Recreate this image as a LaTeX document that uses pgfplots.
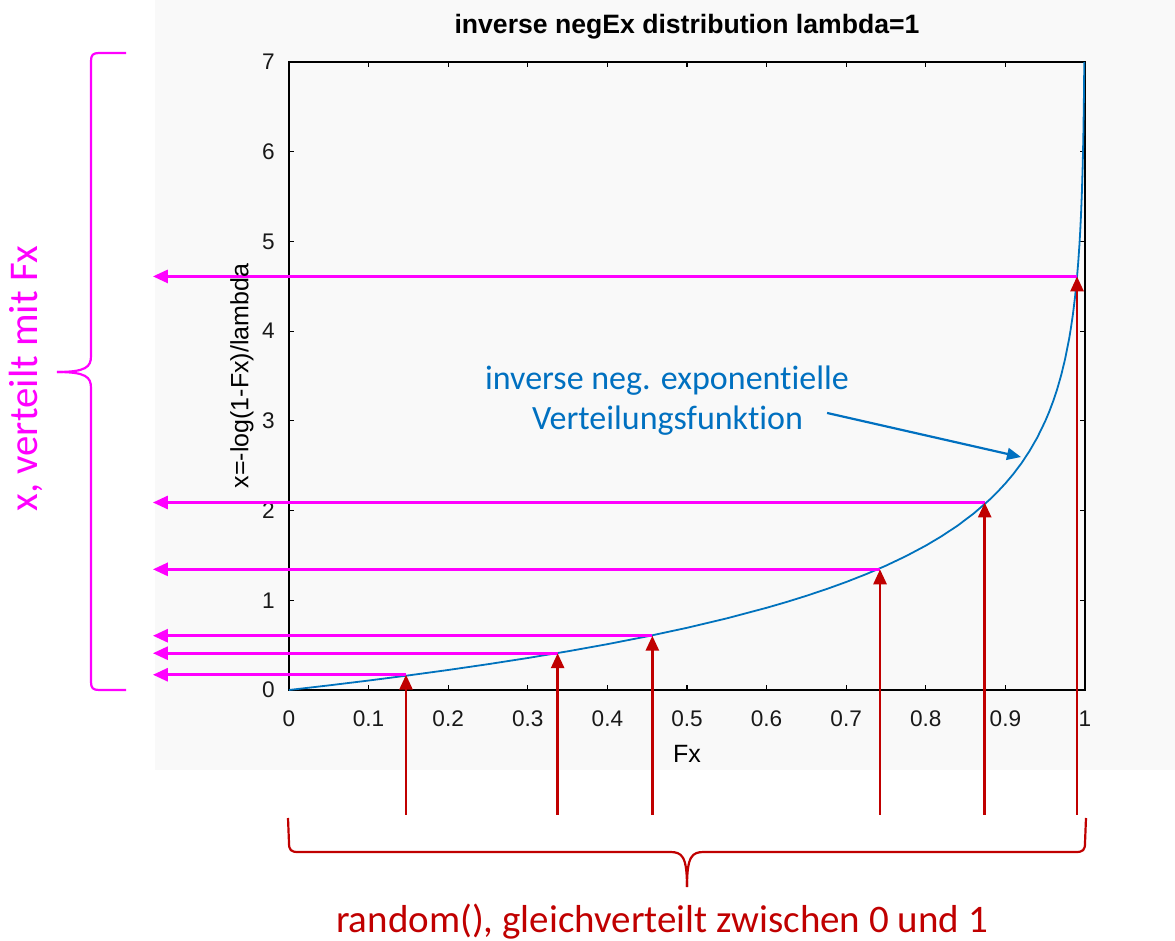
\documentclass[border=0pt]{standalone}
\usepackage{pgfplots}
\pgfplotsset{compat=1.18}
\usepackage{fontspec}
\setmainfont{Liberation Sans}
\newfontfamily\calfont[Ligatures={NoCommon}]{Carlito}
\usetikzlibrary{arrows.meta}
\definecolor{mag}{RGB}{255,0,255}
\definecolor{dred}{RGB}{192,0,0}
\definecolor{cblue}{RGB}{0,114,189}
\definecolor{tblue}{RGB}{0,112,192}
\definecolor{panel}{RGB}{249,249,249}

\pgfplotstableread{
F x
0 0
0.05 0.0513
0.1 0.1054
0.15 0.1625
0.2 0.2231
0.25 0.2877
0.3 0.3567
0.35 0.4308
0.4 0.5108
0.45 0.5978
0.5 0.6931
0.55 0.7985
0.6 0.9163
0.625 0.9808
0.65 1.0498
0.675 1.1239
0.7 1.2040
0.725 1.2910
0.75 1.3863
0.775 1.4917
0.8 1.6094
0.82 1.7148
0.84 1.8326
0.86 1.9661
0.88 2.1203
0.89 2.2073
0.9 2.3026
0.91 2.4079
0.92 2.5257
0.93 2.6593
0.94 2.8134
0.95 2.9957
0.955 3.1011
0.96 3.2189
0.965 3.3524
0.97 3.5066
0.975 3.6889
0.98 3.9120
0.9825 4.0455
0.985 4.1997
0.9875 4.3820
0.99 4.6052
0.9915 4.7677
0.993 4.9618
0.994 5.1160
0.995 5.2983
0.996 5.5215
0.997 5.8091
0.9975 5.9915
0.998 6.2146
0.9985 6.5023
0.999 6.9078
0.99909 7.0
}\curve

\begin{document}
\begin{tikzpicture}
\begin{scope}[x=0.5pt,y=-0.5pt]
\path[use as bounding box] (0,0) rectangle (1175,941);
\fill[panel] (155,0) rectangle (1175,770);
\end{scope}
\begin{axis}[
  at={(144.5pt,-345pt)}, anchor=south west,
  scale only axis, width=398pt, height=314pt,
  xmin=0, xmax=1, ymin=0, ymax=7,
  xtick={0,0.1,0.2,0.3,0.4,0.5,0.6,0.7,0.8,0.9,1},
  ytick={0,1,2,3,4,5,6,7},
  tick align=inside, major tick length=2.7pt,
  tick style={black, line width=0.6pt},
  axis line style={black, line width=0.8pt},
  /pgf/number format/assume math mode=true,
  tick label style={font=\fontsize{11.3}{13}\selectfont, text=black!90},
  xticklabel style={anchor=base, yshift=-18pt},
  yticklabel style={anchor=east, inner sep=0pt, xshift=-7pt},
  title={\bfseries inverse negEx distribution lambda=1},
  title style={at={(axis description cs:0.5,1)}, anchor=base, yshift=8.5pt, font=\fontsize{13.3}{15}\selectfont},
  xlabel={Fx},
  xlabel style={at={(axis description cs:0.5,0)}, anchor=base, yshift=-36pt, font=\fontsize{12.5}{14}\selectfont},
  ylabel={x=-log(1-Fx)/lambda},
  ylabel style={at={(axis description cs:-0.051,0.5)}, anchor=base, font=\fontsize{12.5}{14}\selectfont},
  clip=false,
]
\addplot[cblue, line width=0.9pt] table[x=F, y=x] {\curve};
% magenta horizontal arrows (x)
\addplot[mag, line width=1.4pt, -{Triangle[length=7.5pt,width=6.5pt]}] coordinates {(0.147,0.170) (-0.171,0.170)};
\addplot[mag, line width=1.4pt, -{Triangle[length=7.5pt,width=6.5pt]}] coordinates {(0.3375,0.410) (-0.171,0.410)};
\addplot[mag, line width=1.4pt, -{Triangle[length=7.5pt,width=6.5pt]}] coordinates {(0.4565,0.605) (-0.171,0.605)};
\addplot[mag, line width=1.4pt, -{Triangle[length=7.5pt,width=6.5pt]}] coordinates {(0.7425,1.345) (-0.171,1.345)};
\addplot[mag, line width=1.4pt, -{Triangle[length=7.5pt,width=6.5pt]}] coordinates {(0.874,2.09) (-0.171,2.09)};
\addplot[mag, line width=1.4pt, -{Triangle[length=7.5pt,width=6.5pt]}] coordinates {(0.990,4.61) (-0.171,4.61)};
% red vertical arrows
\addplot[dred, line width=1.4pt, -{Triangle[length=7.5pt,width=6.5pt]}] coordinates {(0.147,-1.393) (0.147,0.170)};
\addplot[dred, line width=1.4pt, -{Triangle[length=7.5pt,width=6.5pt]}] coordinates {(0.3375,-1.393) (0.3375,0.410)};
\addplot[dred, line width=1.4pt, -{Triangle[length=7.5pt,width=6.5pt]}] coordinates {(0.4565,-1.393) (0.4565,0.605)};
\addplot[dred, line width=1.4pt, -{Triangle[length=7.5pt,width=6.5pt]}] coordinates {(0.7425,-1.393) (0.7425,1.345)};
\addplot[dred, line width=1.4pt, -{Triangle[length=7.5pt,width=6.5pt]}] coordinates {(0.874,-1.393) (0.874,2.09)};
\addplot[dred, line width=1.4pt, -{Triangle[length=7.5pt,width=6.5pt]}] coordinates {(0.990,-1.393) (0.990,4.61)};
\draw[tblue, line width=1.1pt, -{Triangle[length=7pt,width=6pt]}] (axis cs:0.676,3.088) -- (axis cs:0.9196,2.597);
\end{axis}
\begin{scope}[x=0.5pt,y=-0.5pt]
% blue annotation text
\node[anchor=base, text=tblue, font=\calfont\fontsize{17}{20}\selectfont, inner sep=0pt] at (667,390) {inverse neg. exponentielle};
\node[anchor=base, text=tblue, font=\calfont\fontsize{17}{20}\selectfont, inner sep=0pt] at (667.5,430) {Verteilungsfunktion};
% left magenta brace and text
\draw[mag, line width=1.1pt] (126,53) -- (99,53) .. controls (93,53) and (91,55) .. (91,61) -- (91,356) .. controls (91,367) and (86,372) .. (57,372);
\draw[mag, line width=1.1pt] (57,372) .. controls (86,372) and (91,377) .. (91,388) -- (91,682) .. controls (91,688) and (93,690) .. (99,690) -- (126,690);
\node[anchor=base, rotate=90, text=mag, font=\calfont\fontsize{20.4}{24}\selectfont, inner sep=0pt] at (38,378.5) {x, verteilt mit Fx};
% bottom red brace and text
\draw[dred, line width=1.1pt] (288,818) -- (289,843) .. controls (289,850) and (291,852) .. (298,852) -- (670,852) .. controls (682,852) and (687,856) .. (687,887);
\draw[dred, line width=1.1pt] (687,887) .. controls (687,856) and (692,852) .. (704,852) -- (1076,852) .. controls (1083,852) and (1085,850) .. (1085,843) -- (1086,818);
\node[anchor=base, text=dred, font=\calfont\fontsize{19.5}{23}\selectfont, inner sep=0pt] at (662,932) {random(), gleichverteilt zwischen 0 und 1};
\end{scope}
\end{tikzpicture}
\end{document}
